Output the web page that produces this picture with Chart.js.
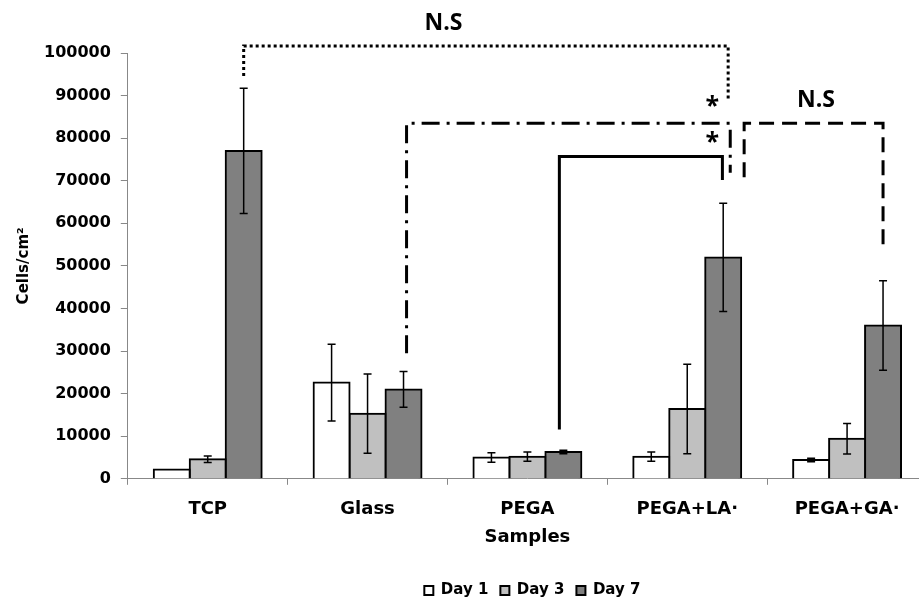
<!DOCTYPE html>
<html>
<head>
<meta charset="utf-8">
<script src="https://cdn.jsdelivr.net/npm/chart.js@4.4.1/dist/chart.umd.min.js"></script>
<style>
    html, body { margin: 0; padding: 0; background: #fff; overflow: hidden; }
    #wrap { position: absolute; left: 0; top: 0; width: 927px; height: 601px; }
</style>
</head>
<body>
<div id="wrap"><canvas id="cell-chart" width="927" height="601"></canvas></div>
<script>
// Data (cells/cm2, mean and error)
const samples = ['TCP', 'Glass', 'PEGA', 'PEGA+LA·', 'PEGA+GA·'];
const dayLabels = ['Day 1', 'Day 3', 'Day 7'];
const day1 = [2200, 22600, 5000, 5200, 4400];
const day3 = [4600, 15300, 5200, 16400, 9400];
const day7 = [77000, 21000, 6300, 52000, 36000];
const day1Err = [0, 9000, 1100, 1100, 400];
const day3Err = [750, 9300, 1100, 10500, 3600];
const day7Err = [14700, 4200, 400, 12700, 10500];
const yTicks = [0, 10000, 20000, 30000, 40000, 50000, 60000, 70000, 80000, 90000, 100000];

// significance brackets: legs at category positions, heights in cells/cm2
const bracketKinds = ['dotted', 'dashdot', 'solid', 'dashed'];
const bracketFrom = [0.225, 1.244, 2.2, 3.356];
const bracketTo = [3.256, 3.269, 3.22, 4.225];
const bracketTop = [101650, 83500, 75700, 83500];
const bracketFromEnd = [94600, 29500, 11600, 70800];
const bracketToEnd = [88900, 71900, 70200, 55100];

const markTexts = ['N.S', 'N.S', '*', '*'];
const markAt = [1.475, 3.806, 3.157, 3.157];
const markValue = [106900, 88900, 88700, 80200];

const boldFont = (size) => ({ family: 'DejaVu Sans', weight: 'bold', size: size });

const errorBars = {
    id: 'errorBars',
    afterDatasetsDraw(chart) {
        const ctx = chart.ctx;
        const y = chart.scales.y;
        const errs = [day1Err, day3Err, day7Err];
        ctx.save();
        ctx.strokeStyle = '#000';
        ctx.lineWidth = 1.5;
        chart.data.datasets.forEach((ds, i) => {
            const meta = chart.getDatasetMeta(i);
            meta.data.forEach((bar, j) => {
                const e = errs[i][j];
                if (!e) return;
                const top = y.getPixelForValue(ds.data[j] + e);
                const bot = y.getPixelForValue(ds.data[j] - e);
                const x = bar.x;
                ctx.beginPath();
                ctx.moveTo(x, top); ctx.lineTo(x, bot);
                ctx.moveTo(x - 4, top); ctx.lineTo(x + 4, top);
                ctx.moveTo(x - 4, bot); ctx.lineTo(x + 4, bot);
                ctx.stroke();
            });
        });
        ctx.restore();
    }
};

const dashes = {
    dotted: [3, 3],
    dashdot: [18, 7, 3, 7],
    solid: [],
    dashed: [15, 8]
};

const brackets = {
    id: 'brackets',
    afterDraw(chart) {
        const ctx = chart.ctx;
        const x = chart.scales.x;
        const y = chart.scales.y;
        ctx.save();
        ctx.strokeStyle = '#000';
        ctx.lineWidth = 3;
        bracketKinds.forEach((kind, i) => {
            const x1 = x.getPixelForValue(bracketFrom[i]);
            const x2 = x.getPixelForValue(bracketTo[i]);
            const yt = y.getPixelForValue(bracketTop[i]);
            ctx.setLineDash(dashes[kind]);
            ctx.beginPath();
            ctx.moveTo(x1, y.getPixelForValue(bracketFromEnd[i]));
            ctx.lineTo(x1, yt);
            ctx.lineTo(x2, yt);
            ctx.lineTo(x2, y.getPixelForValue(bracketToEnd[i]));
            ctx.stroke();
        });
        ctx.setLineDash([]);
        ctx.fillStyle = '#000';
        ctx.textAlign = 'center';
        ctx.textBaseline = 'middle';
        markTexts.forEach((t, i) => {
            ctx.font = t === '*' ? 'bold 25px "Open Sans"' : 'bold 23px "Open Sans"';
            const dy = t === '*' ? 6 : 0;
            ctx.fillText(t, x.getPixelForValue(markAt[i]), y.getPixelForValue(markValue[i]) + dy);
        });
        ctx.restore();
    }
};

// move the legend to where the figure has it
const legendPlace = {
    id: 'legendPlace',
    afterLayout(chart) {
        const lg = chart.legend;
        const area = chart.chartArea;
        const h = lg.bottom - lg.top;
        lg.left = area.left + 10;
        lg.right = area.right;
        lg.top = lg.top + 23;
        lg.bottom = lg.top + h;
    }
};

function initChart() {
    const ctx = document.getElementById('cell-chart').getContext('2d');
    new Chart(ctx, {
        type: 'bar',
        data: {
            labels: samples,
            datasets: [
                { label: dayLabels[0], data: day1, backgroundColor: '#ffffff' },
                { label: dayLabels[1], data: day3, backgroundColor: '#c0c0c0' },
                { label: dayLabels[2], data: day7, backgroundColor: '#808080' }
            ].map(d => Object.assign(d, {
                borderColor: '#000',
                borderWidth: 2,
                inflateAmount: 1,
                barPercentage: 1,
                categoryPercentage: 0.675
            }))
        },
        options: {
            responsive: false,
            animation: false,
            layout: { padding: { top: 53, left: 15, right: 0, bottom: 16 } },
            plugins: {
                tooltip: { enabled: false },
                legend: {
                    position: 'bottom',
                    labels: {
                        font: boldFont(15),
                        color: '#000',
                        boxWidth: 9,
                        boxHeight: 9,
                        padding: 12
                    }
                }
            },
            scales: {
                x: {
                    grid: { display: true, drawOnChartArea: false, drawTicks: true, tickLength: 6, offset: true, color: '#888' },
                    border: { color: '#888', width: 1 },
                    ticks: { font: boldFont(18), color: '#000', padding: 14, maxRotation: 0, autoSkip: false },
                    title: { display: true, text: 'Samples', font: boldFont(18), color: '#000', padding: { top: -8, bottom: 0 } }
                },
                y: {
                    min: 0,
                    max: 100000,
                    afterBuildTicks: axis => { axis.ticks = yTicks.map(v => ({ value: v })); },
                    grid: { drawOnChartArea: false, drawTicks: true, tickLength: 7, color: '#888' },
                    border: { color: '#888', width: 1 },
                    ticks: { font: boldFont(16), color: '#000', padding: 10, callback: v => String(v) },
                    title: { display: true, text: 'Cells/cm²', font: boldFont(15), color: '#000', padding: { top: 0, bottom: 1 } }
                }
            }
        },
        plugins: [errorBars, brackets, legendPlace]
    });
}

initChart();
</script>
</body>
</html>
